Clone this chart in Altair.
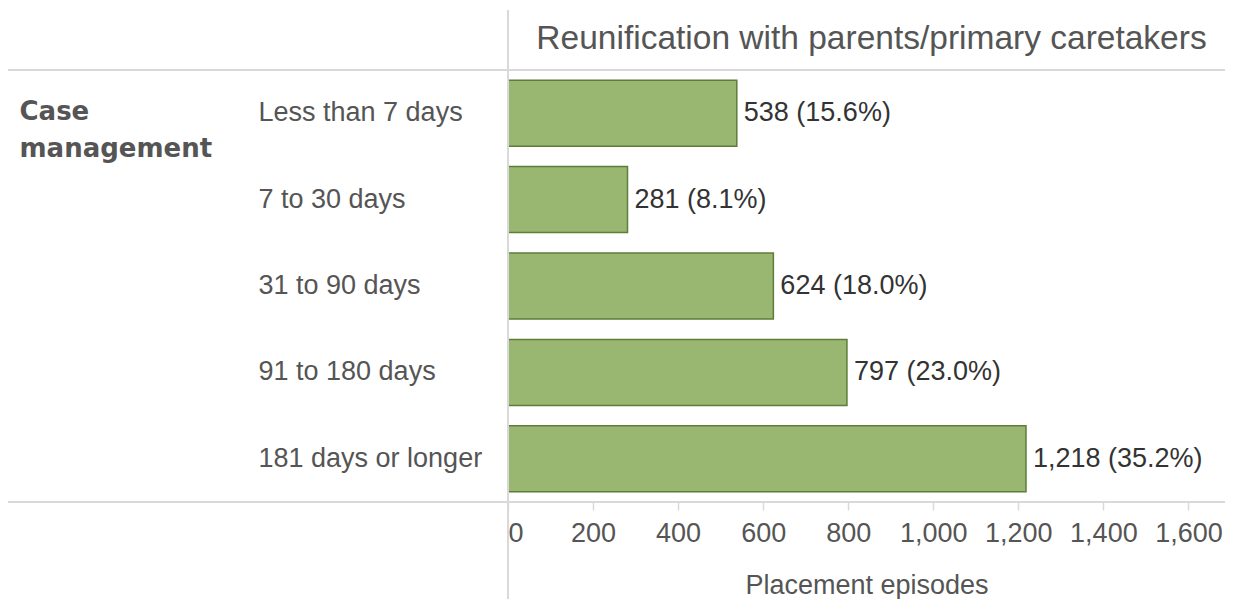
import altair as alt
import pandas as pd

categories = ["Less than 7 days", "7 to 30 days", "31 to 90 days", "91 to 180 days", "181 days or longer"]
episodes = [538, 281, 624, 797, 1218]
percents = [15.6, 8.1, 18.0, 23.0, 35.2]
x_ticks = [0, 200, 400, 600, 800, 1000, 1200, 1400, 1600]
header = "Reunification with parents/primary caretakers"
row_header = ["Case", "management"]

df = pd.DataFrame({"category": categories, "episodes": episodes, "pct": percents})

W = 717
H = 432
FONT = "Liberation Sans"
GRID = "#d9d9d9"

x_enc = alt.X(
    "episodes:Q",
    scale=alt.Scale(domain=[0, 1686], nice=False, zero=True),
    axis=alt.Axis(
        values=x_ticks,
        format=",d",
        title="Placement episodes",
        titleFont=FONT, titleFontSize=27, titleFontWeight="normal", titleColor="#555555",
        titlePadding=26,
        labelFont=FONT, labelFontSize=27, labelColor="#555555",
        labelFlush=True, labelPadding=10,
        tickSize=8, tickColor=GRID, tickWidth=1.5,
        domain=False, grid=False,
    ),
)

y_enc = alt.Y(
    "category:N",
    sort=categories,
    scale=alt.Scale(paddingInner=0.236, paddingOuter=0.118),
    axis=alt.Axis(
        title=row_header,
        titleFont="DejaVu Sans", titleFontSize=26, titleFontWeight="bold", titleColor="#555555",
        titleAngle=0, titleAlign="left", titleBaseline="top",
        titleX=-489, titleY=28, titleLineHeight=37,
        labelFont=FONT, labelFontSize=27, labelColor="#555555",
        labelAlign="left", labelPadding=250, labelLimit=0,
        ticks=False, tickSize=0, domain=False, grid=False,
    ),
)

bars = alt.Chart(df).mark_bar(
    fill="#99b770", stroke="#5d7d39", strokeWidth=1.5
).encode(x=x_enc, y=y_enc)

labels = alt.Chart(df).transform_calculate(
    lab="format(datum.episodes, ',') + ' (' + format(datum.pct, '.1f') + '%)'"
).mark_text(
    align="left", baseline="middle", dx=7, font=FONT, fontSize=27, color="#333333"
).encode(
    x=alt.X("episodes:Q"),
    y=alt.Y("category:N", sort=categories),
    text="lab:N",
)

title_text = alt.Chart(pd.DataFrame({"t": [header]})).mark_text(
    align="center", baseline="alphabetic", font=FONT, fontSize=33.5, color="#555555"
).encode(
    x=alt.value(W / 2 + 5), y=alt.value(-21), text="t:N"
)

top_line = alt.Chart(df).mark_rule(color=GRID, strokeWidth=2).encode(
    x=alt.value(-500), x2=alt.value(W), y=alt.value(0)
)
bottom_line = alt.Chart(df).mark_rule(color=GRID, strokeWidth=2).encode(
    x=alt.value(-500), x2=alt.value(W), y=alt.value(H)
)
vert_line = alt.Chart(df).mark_rule(color=GRID, strokeWidth=2).encode(
    x=alt.value(0), y=alt.value(-60), y2=alt.value(H + 97)
)

chart = alt.layer(bars, labels, title_text, top_line, bottom_line, vert_line).properties(
    width=W,
    height=H,
    autosize=alt.AutoSizeParams(type="none"),
    padding={"left": 500, "top": 62, "right": 0, "bottom": 97},
).configure_view(strokeWidth=0)

chart.save("out.html", embed_options={"renderer": "svg", "actions": False})
